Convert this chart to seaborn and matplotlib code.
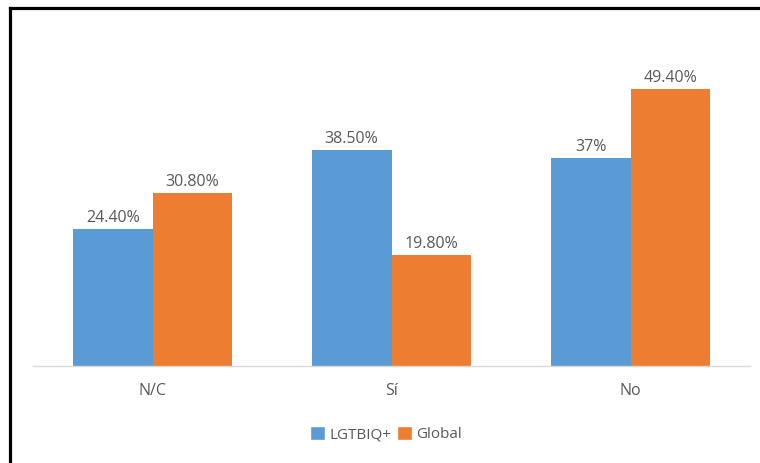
import matplotlib
matplotlib.use("Agg")
import matplotlib.pyplot as plt
from matplotlib.lines import Line2D
from matplotlib.patches import Patch
import seaborn as sns
import pandas as pd

categories = ["N/C", "Sí", "No"]
series = ["LGTBIQ+", "Global"]
lgtbiq_values = [24.4, 38.5, 37.0]
global_values = [30.8, 19.8, 49.4]
lgtbiq_labels = ["24.40%", "38.50%", "37%"]
global_labels = ["30.80%", "19.80%", "49.40%"]

BLUE = "#5B9BD5"
ORANGE = "#ED7D31"
TEXT = "#595959"

sns.set_theme(style="white")
plt.rcParams["font.family"] = ["Open Sans", "DejaVu Sans"]

df = pd.DataFrame({
    "cat": categories * 2,
    "val": lgtbiq_values + global_values,
    "serie": [series[0]] * 3 + [series[1]] * 3,
})

W, H = 760, 463
fig = plt.figure(figsize=(W / 100, H / 100), dpi=100)
ax = fig.add_axes([33 / W, 1 - 366 / H, (750 - 33) / W, (366 - 29) / H])

sns.barplot(data=df, x="cat", y="val", hue="serie", order=categories,
            hue_order=series, palette=[BLUE, ORANGE], width=0.667,
            saturation=1, ax=ax, legend=False, errorbar=None, linewidth=0)

ax.set_xlim(-0.5, 2.5)
ax.set_ylim(0, 60)
ax.set_xlabel("")
ax.set_ylabel("")
ax.set_yticks([])
for s in ["top", "right", "left"]:
    ax.spines[s].set_visible(False)
ax.spines["bottom"].set_color("#D9D9D9")
ax.spines["bottom"].set_linewidth(1)
ax.tick_params(axis="x", length=0, pad=12, labelsize=11.5, labelcolor=TEXT)

for cont, labs in zip(ax.containers, [lgtbiq_labels, global_labels]):
    ax.bar_label(cont, labels=labs, padding=2, color=TEXT, fontsize=11.5)

handles = [Patch(facecolor=BLUE, label=series[0]),
           Patch(facecolor=ORANGE, label=series[1])]
fig.legend(handles=handles, loc="center", bbox_to_anchor=(386 / W, 1 - 434 / H),
           ncol=2, frameon=False, fontsize=11, labelcolor=TEXT,
           handlelength=1.0, handleheight=1.0, handletextpad=0.25, columnspacing=0.4)

# border
fig.add_artist(Line2D([10 / W, 10 / W], [1 - 8 / H, 0], transform=fig.transFigure,
                      color="black", lw=2.3, solid_capstyle="projecting"))
fig.add_artist(Line2D([10 / W, 1], [1 - 8 / H, 1 - 8 / H], transform=fig.transFigure,
                      color="black", lw=2.3, solid_capstyle="projecting"))

fig.savefig("out.png", dpi=100)
